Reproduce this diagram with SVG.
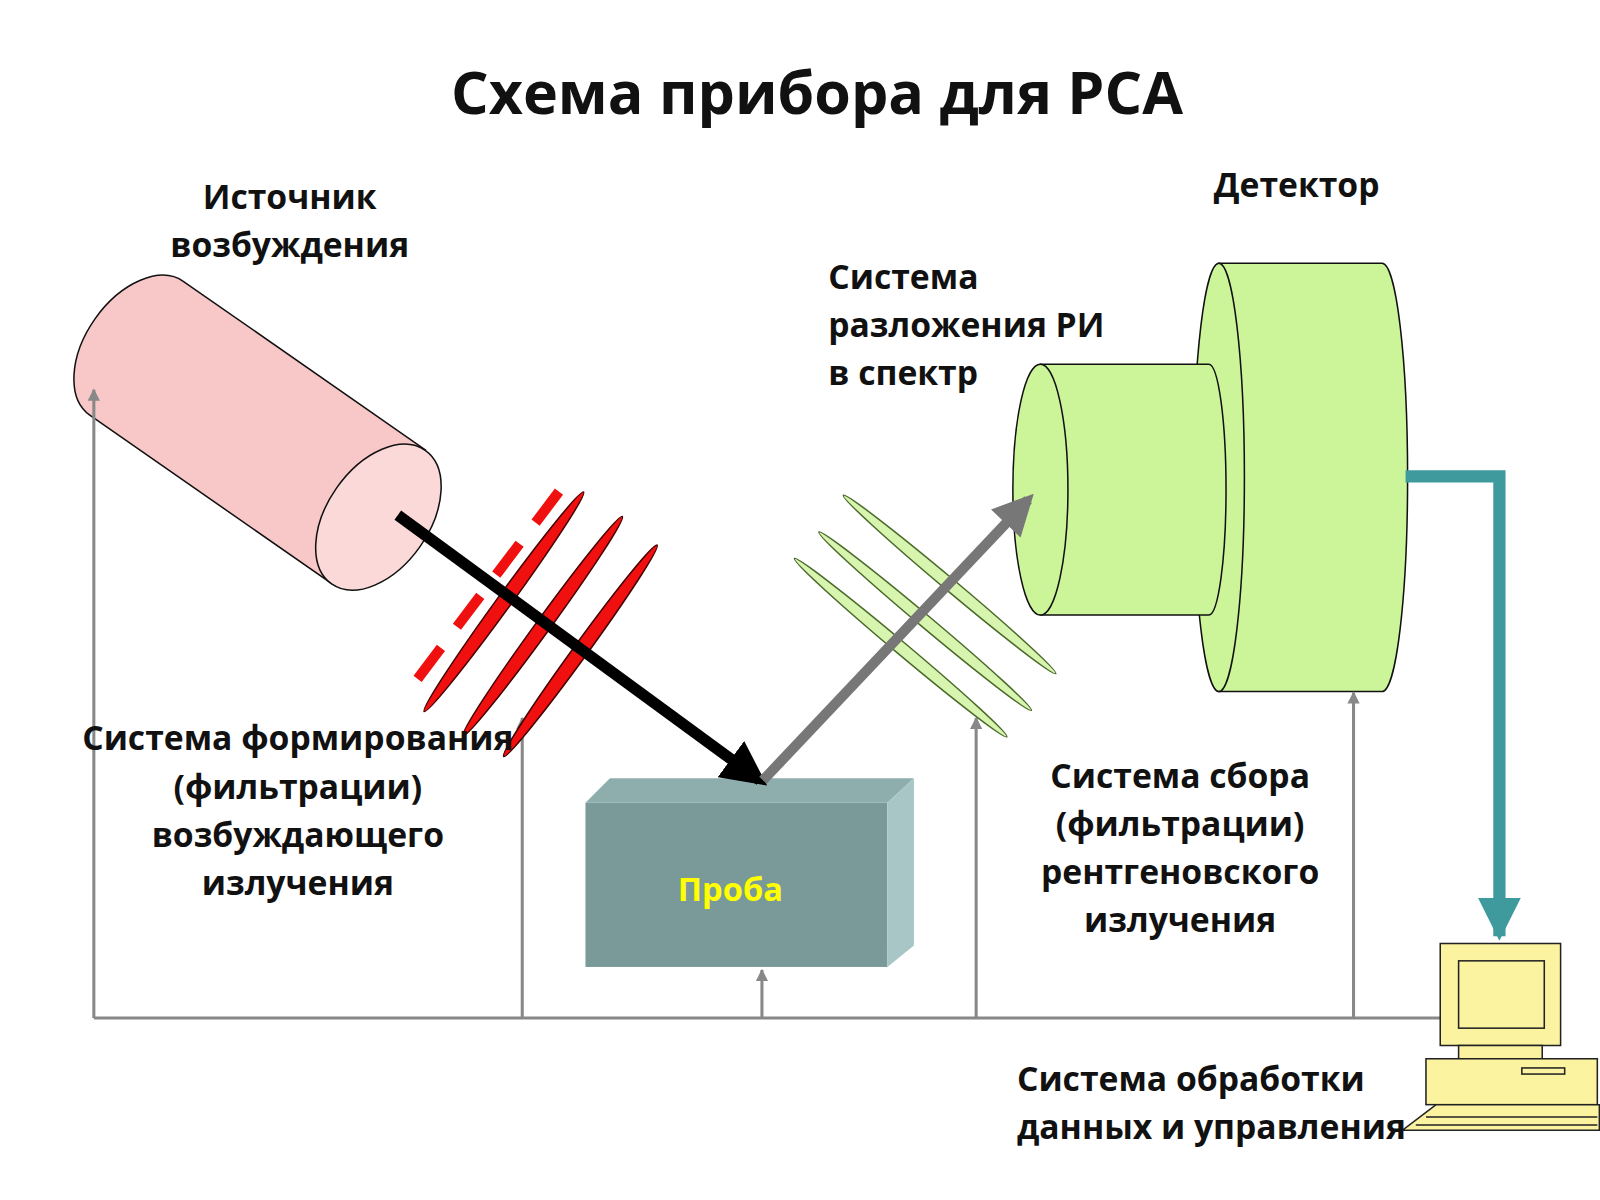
<svg xmlns="http://www.w3.org/2000/svg" width="1600" height="1200" viewBox="0 0 1600 1200">
<defs>
<style>
.t{font-family:"Open Sans","Noto Sans",sans-serif;font-weight:bold;fill:#111;font-size:33px}
.g{stroke:#888;stroke-width:3;fill:none}
.red{fill:#f01010;stroke:#400;stroke-width:1.5}
.grn{fill:#d8f5b0;stroke:#4a6a2a;stroke-width:1.5}
.cyl{stroke:#111;stroke-width:1.5}
</style>
<marker id="ga" viewBox="0 0 10 10" refX="9" refY="5" markerWidth="4" markerHeight="4" orient="auto"><path d="M0,0 L10,5 L0,10 Z" fill="#888"/></marker>
<marker id="ba" viewBox="0 0 10 10" refX="8" refY="5" markerWidth="4" markerHeight="4" orient="auto"><path d="M0,0 L10,5 L0,10 Z" fill="#000"/></marker>
<marker id="da" viewBox="0 0 10 10" refX="8" refY="5" markerWidth="4" markerHeight="4" orient="auto"><path d="M0,0 L10,5 L0,10 Z" fill="#777"/></marker>
<marker id="ta" viewBox="0 0 10 10" refX="9" refY="5" markerWidth="3.5" markerHeight="3.5" orient="auto"><path d="M0,0 L10,5 L0,10 Z" fill="#3f9a9e"/></marker>
</defs>
<rect width="1600" height="1200" fill="#fff"/>
<g transform="scale(1.02)">
<text x="801" y="112" text-anchor="middle" class="t" style="font-size:58px">Схема прибора для РСА</text>

<g id="source">
<path class="cyl" fill="#f8c8c8" d="M180,276 L417,441 L325,572 L88,407 A80 50 -55 0 1 180,276 Z"/>
<ellipse class="cyl" cx="371" cy="507" rx="80" ry="50" transform="rotate(-55 371 507)" fill="#fbd9d9"/>
</g>

<g id="detector">
<path class="cyl" fill="#ccf59a" d="M1195,258 H1355 A25 210 0 0 1 1355,678 H1195 Z"/>
<ellipse class="cyl" cx="1195" cy="468" rx="25" ry="210" fill="#ccf59a"/>
<path class="cyl" fill="#ccf59a" d="M1020,357 H1185 A17 123 0 0 1 1185,603 H1020 Z"/>
<ellipse class="cyl" cx="1020" cy="480" rx="27" ry="123" fill="#ccf59a"/>
</g>

<g id="connectors">
<path class="g" d="M92,998 H1412"/>
<path class="g" d="M92,998 V382" marker-end="url(#ga)"/>
<path class="g" d="M512,998 V704" marker-end="url(#ga)"/>
<path class="g" d="M747,998 V951" marker-end="url(#ga)"/>
<path class="g" d="M957,998 V704" marker-end="url(#ga)"/>
<path class="g" d="M1327,998 V679" marker-end="url(#ga)"/>
<path d="M1378,467 H1470 V918" fill="none" stroke="#3f9a9e" stroke-width="12" marker-end="url(#ta)"/>
</g>

<g id="filter1">
<path d="M548,482 L400,678" stroke="#f01010" stroke-width="10" stroke-dasharray="38,26"/>
<ellipse class="red" cx="494" cy="590" rx="133" ry="7" transform="rotate(-54 494 590)"/>
<ellipse class="red" cx="532" cy="614" rx="133" ry="7" transform="rotate(-54 532 614)"/>
<ellipse class="red" cx="569" cy="638" rx="128" ry="7" transform="rotate(-54 569 638)"/>
</g>

<g id="filter2">
<ellipse class="grn" cx="931" cy="573" rx="136" ry="6" transform="rotate(40 931 573)"/>
<ellipse class="grn" cx="907" cy="609" rx="136" ry="6" transform="rotate(40 907 609)"/>
<ellipse class="grn" cx="883" cy="635" rx="136" ry="6" transform="rotate(40 883 635)"/>
</g>

<g id="sample">
<rect x="574" y="787" width="296" height="161" fill="#7a9a9a"/>
<path d="M574,787 L598,763 H896 L870,787 Z" fill="#8eaeae"/>
<path d="M870,787 L896,763 V927 L870,948 Z" fill="#a8c6c6"/>
<text x="716" y="883" text-anchor="middle" class="t" style="fill:#ffff00;font-size:32px">Проба</text>
</g>

<path d="M390,505 L745,765" stroke="#000" stroke-width="11" marker-end="url(#ba)"/>
<path d="M748,765 L1008,490" stroke="#777" stroke-width="10" marker-end="url(#da)"/>

<g id="computer" stroke="#222" stroke-width="1.5" fill="#fbf3a0">
<rect x="1412" y="925" width="118" height="100"/>
<rect x="1430" y="942" width="84" height="66"/>
<rect x="1430" y="1025" width="82" height="13"/>
<rect x="1398" y="1038" width="168" height="45"/>
<rect x="1492" y="1047" width="42" height="6"/>
<path d="M1408,1083 L1375,1108 H1568 V1083 Z"/>
<path d="M1398,1095 H1566 M1388,1103 H1566" fill="none"/>
</g>

<g id="labels" class="t">
<text x="284" y="205" text-anchor="middle">Источник</text>
<text x="284" y="252" text-anchor="middle">возбуждения</text>
<text x="1190" y="193">Детектор</text>
<text x="812" y="283">Система</text>
<text x="812" y="330">разложения РИ</text>
<text x="812" y="377">в спектр</text>
<text x="292" y="735" text-anchor="middle">Система формирования</text>
<text x="292" y="783" text-anchor="middle">(фильтрации)</text>
<text x="292" y="830" text-anchor="middle">возбуждающего</text>
<text x="292" y="877" text-anchor="middle">излучения</text>
<text x="1157" y="773" text-anchor="middle">Система сбора</text>
<text x="1157" y="820" text-anchor="middle">(фильтрации)</text>
<text x="1157" y="867" text-anchor="middle">рентгеновского</text>
<text x="1157" y="914" text-anchor="middle">излучения</text>
<text x="997" y="1070">Система обработки</text>
<text x="997" y="1117">данных и управления</text>
</g>
</g>
</svg>
